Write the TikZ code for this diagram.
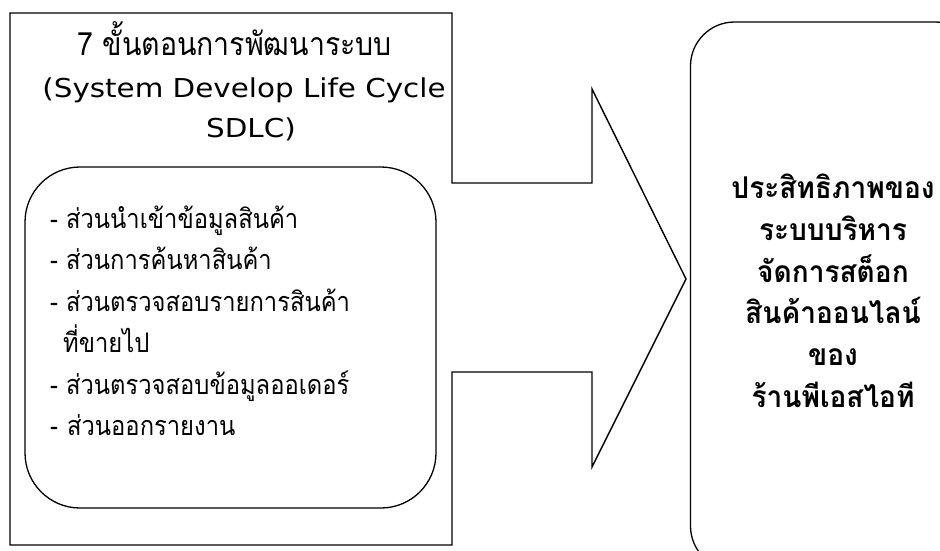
\documentclass[tikz,border=0pt]{standalone}
\usepackage{fontspec}
\newfontfamily\thaititle[Script=Thai,FakeStretch=0.89]{Loma}
\newfontfamily\thainarrow[Script=Thai,FakeStretch=0.88]{Loma}
\newfontfamily\thaibold[Script=Thai,FakeStretch=0.935]{Loma}
\newfontfamily\latinsans[FakeStretch=1.13]{DejaVu Sans}
\begin{document}
\begin{tikzpicture}[x=1pt,y=-1pt,
  outline/.style={draw=black,line width=1.4pt,line join=miter},
  roundbox/.style={draw=black,line width=1.3pt,rounded corners=#1,inner sep=0pt},
  titlethai/.style={font=\thaititle\fontsize{32}{40}\selectfont,inner sep=0pt,anchor=base west},
  titlelatin/.style={font=\latinsans\fontsize{26}{40}\selectfont,inner sep=0pt,anchor=base},
  listtext/.style={font=\thainarrow\fontsize{27}{41.6}\selectfont,inner sep=0pt,anchor=base west},
  resulttext/.style={font=\thaibold\bfseries\fontsize{30}{41}\selectfont,inner sep=0pt,anchor=base}]
\useasboundingbox (0,0) rectangle (940,550);
\clip (0,0) rectangle (940,550);
% outer frame with arrow
\coordinate (f1) at (10,13);
\coordinate (f2) at (452,13);
\coordinate (f3) at (452,183);
\coordinate (f4) at (592,183);
\coordinate (f5) at (592,89);
\coordinate (tip) at (686,279);
\coordinate (f7) at (592,467);
\coordinate (f8) at (592,372);
\coordinate (f9) at (452,372);
\coordinate (f10) at (452,545);
\coordinate (f11) at (10,545);
\draw[outline] (f1) -- (f2) -- (f3) -- (f4) -- (f5) -- (tip) -- (f7) -- (f8) -- (f9) -- (f10) -- (f11) -- cycle;
% title
\node[titlethai] (title1) at (77,55) {7 ขั้นตอนการพัฒนาระบบ};
\node[titlelatin] (title2) at (244,97) {(System Develop Life Cycle};
\node[titlelatin] (title3) at (251,137) {SDLC)};
% inner rounded box
\node[roundbox=55pt,minimum width=411pt,minimum height=341pt] (inner) at (230.5,337.5) {};
\node[listtext] (l1) at (50,228) {- ส่วนนำเข้าข้อมูลสินค้า};
\node[listtext] (l2) at (50,269.5) {- ส่วนการค้นหาสินค้า};
\node[listtext] (l3) at (50,311) {- ส่วนตรวจสอบรายการสินค้า};
\node[listtext] (l4) at (63,352.5) {ที่ขายไป};
\node[listtext] (l5) at (50,394) {- ส่วนตรวจสอบข้อมูลออเดอร์};
\node[listtext] (l6) at (50,435.5) {-\hspace{9pt}ส่วนออกรายงาน};
% right rounded box
\node[roundbox=44pt,minimum width=289pt,minimum height=548pt] (result) at (835,296) {};
\node[resulttext] (r1) at (833,198) {ประสิทธิภาพของ};
\node[resulttext] (r2) at (833,240) {ระบบบริหาร};
\node[resulttext] (r3) at (833,282) {จัดการสต็อก};
\node[resulttext] (r4) at (833,323) {สินค้าออนไลน์};
\node[resulttext] (r5) at (833,365) {ของ};
\node[resulttext] (r6) at (833,407) {ร้านพีเอสไอที};
\end{tikzpicture}
\end{document}
